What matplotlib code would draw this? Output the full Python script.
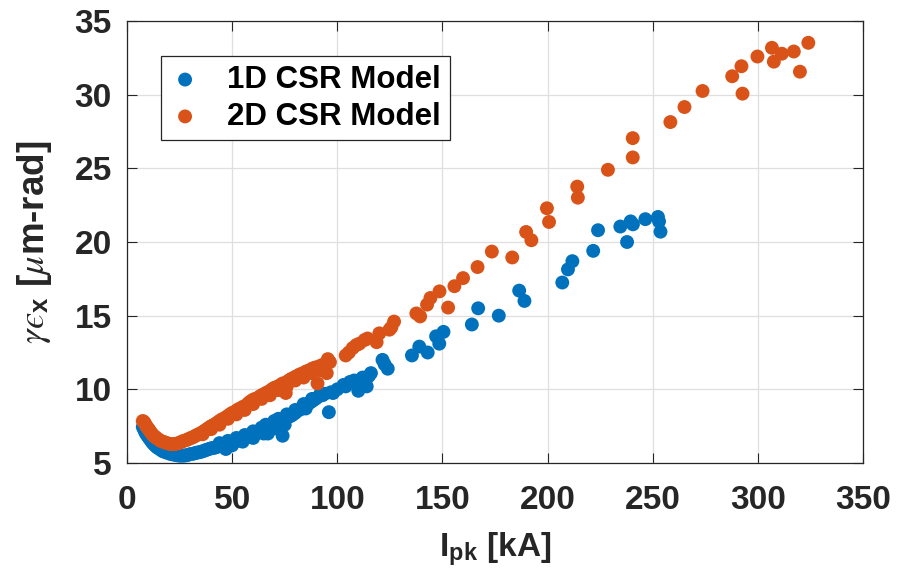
import matplotlib
matplotlib.use("Agg")
import matplotlib.pyplot as plt

plt.rcParams['font.family'] = ['Liberation Sans', 'DejaVu Sans']
plt.rcParams['mathtext.fontset'] = 'custom'
plt.rcParams['mathtext.rm'] = 'Liberation Sans:weight=bold'
plt.rcParams['mathtext.bf'] = 'Liberation Sans:weight=bold'
plt.rcParams['mathtext.it'] = 'STIXGeneral:style=italic:weight=normal'

# 1D CSR model
x_1d = [7.5, 8, 8.5, 9, 9.5, 10, 10.5, 11, 11.5, 12, 12.5, 13, 13.5, 14, 14.5, 15, 16, 17, 18, 19,
        20, 21, 22, 23, 24, 25, 26, 27, 28, 29, 30, 31, 32, 33, 34, 35, 36, 37, 38, 39,
        40, 41, 42, 43, 44, 45, 46, 47, 48, 49, 50, 51, 52, 53, 54, 55, 56, 57, 58, 59,
        60, 61, 62, 63, 64, 65, 66, 67, 67.5, 68, 69, 70, 71, 72, 73, 74, 74.5, 75, 76, 77,
        78, 79, 80, 82, 84, 85, 86, 87, 88, 89, 90, 91.5, 93, 94, 96, 97, 98, 100, 103, 104,
        106, 108, 110, 112, 114, 115, 116, 121.5, 122.5, 124, 135.5, 139, 143, 147, 148.5, 150.5,
        164, 167, 176.8, 186.5, 189, 207, 209.7, 211.8, 221.7, 224, 234.6, 237.8, 239.5, 240.6,
        246.5, 252.5, 253, 253.7,
        44, 48, 52, 56, 60, 64, 66, 70, 72, 76, 80, 84, 88, 92, 50, 55, 60, 65, 70]
y_1d = [7.45, 7.3, 7.15, 7.0, 6.9, 6.8, 6.7, 6.6, 6.5, 6.4, 6.32, 6.25, 6.18, 6.1, 6.05, 6.0, 5.9, 5.8, 5.75, 5.7,
        5.65, 5.6, 5.58, 5.55, 5.52, 5.5, 5.5, 5.5, 5.52, 5.55, 5.6, 5.62, 5.65, 5.7, 5.72, 5.75, 5.8, 5.85, 5.9, 5.95,
        6.0, 6.02, 6.05, 6.1, 6.15, 6.2, 6.22, 5.95, 6.3, 6.35, 6.4, 6.45, 6.5, 6.52, 6.6, 6.65, 6.7, 6.75, 6.8, 6.85,
        6.95, 7.0, 7.05, 7.1, 7.2, 7.25, 7.3, 7.0, 7.4, 7.5, 7.55, 7.6, 7.7, 7.8, 7.85, 6.85, 7.95, 7.6, 8.1, 8.15,
        8.2, 8.3, 8.4, 8.6, 8.8, 8.7, 9.0, 9.1, 9.2, 9.3, 9.4, 9.55, 9.6, 9.7, 8.45, 9.8, 9.75, 10.0, 10.3, 10.2,
        10.5, 10.6, 9.9, 10.8, 10.2, 10.9, 11.1, 12.0, 11.7, 11.4, 12.3, 12.9, 12.5, 13.6, 13.1, 13.9,
        14.4, 15.5, 15.0, 16.7, 16.0, 17.25, 18.14, 18.7, 19.4, 20.8, 21.05, 20.0, 21.4, 21.2,
        21.55, 21.7, 21.4, 20.7,
        6.35, 6.5, 6.7, 6.9, 7.15, 7.4, 7.6, 7.85, 8.0, 8.3, 8.6, 9.0, 9.35, 9.7, 6.2, 6.45, 6.7, 7.0, 7.35]

# 2D CSR model
x_2d = [7.5, 8, 8.5, 9, 9.5, 10, 10.5, 11, 11.5, 12, 12.5, 13, 13.5, 14, 15, 16, 17, 18, 19, 20,
        21, 22, 23, 24, 25, 26, 27, 28, 29, 30, 31, 32, 33, 34, 35, 36, 37, 38, 39, 40,
        41, 42, 43, 44, 45, 46, 47, 48, 49, 50, 51, 52, 53, 54, 55, 56, 57, 58, 59, 60,
        61, 62, 63, 64, 65, 66, 67, 68, 69, 70, 71, 72, 73, 74, 75.5, 76, 77, 78, 79, 80,
        81, 82, 83, 84, 85, 86, 87, 88, 89, 90, 90.6, 92, 93, 94, 95, 95.5, 96.5, 104, 105.5, 107.3,
        109, 110.5, 113, 114.4, 118.7, 120, 124.8, 125.7, 127, 137.6, 139.4, 142.7, 144.3, 148.6, 152.7, 155.7,
        159.8, 166.7, 173.5, 183.2, 189.8, 192.3, 199.7, 200.7, 214.1, 214.4, 228.7, 240.5, 240.5, 258.4,
        265.1, 273.7, 287.8, 292.2, 292.7, 299.8, 306.7, 307.6, 311.4, 317.1, 320, 324,
        36, 40, 44, 48, 52, 56, 60, 64, 68, 72, 76, 80, 84, 88, 92]
y_2d = [7.85, 7.8, 7.7, 7.55, 7.45, 7.35, 7.25, 7.15, 7.05, 6.95, 6.88, 6.8, 6.75, 6.7, 6.6, 6.5, 6.45, 6.4, 6.35, 6.3,
        6.28, 6.28, 6.3, 6.32, 6.38, 6.45, 6.5, 6.55, 6.6, 6.68, 6.72, 6.8, 6.88, 6.95, 7.02, 7.1, 7.2, 7.3, 7.4, 7.5,
        7.55, 7.65, 7.75, 7.85, 7.95, 8.0, 8.1, 8.2, 8.3, 8.4, 8.45, 8.55, 8.65, 8.7, 8.8, 8.85, 8.95, 9.1, 9.2, 9.3,
        9.35, 9.4, 9.5, 9.6, 9.65, 9.75, 9.8, 9.9, 10.0, 10.1, 10.15, 10.2, 10.3, 10.4, 9.75, 10.5, 10.6, 10.7, 10.75, 10.85,
        10.9, 11.0, 11.05, 11.1, 11.2, 11.25, 11.3, 11.4, 11.45, 11.5, 10.4, 11.6, 11.65, 11.7, 11.1, 12.05, 11.85, 12.3, 12.5, 12.8,
        13.0, 13.1, 13.35, 13.45, 13.2, 13.8, 14.05, 14.2, 14.6, 15.15, 14.95, 15.75, 16.2, 16.65, 15.55, 17.0,
        17.55, 18.3, 19.35, 18.95, 20.68, 20.12, 22.29, 21.36, 23.76, 23.01, 24.9, 27.05, 25.74, 28.14,
        29.16, 30.25, 31.25, 31.93, 30.07, 32.59, 33.18, 32.24, 32.78, 32.93, 31.56, 33.52,
        6.95, 7.3, 7.6, 8.0, 8.3, 8.6, 9.0, 9.35, 9.6, 9.95, 10.2, 10.6, 10.8, 11.1, 11.3]

x_ticks = [0, 50, 100, 150, 200, 250, 300, 350]
y_ticks = [5, 10, 15, 20, 25, 30, 35]

fig = plt.figure(figsize=(9.07, 5.82), dpi=100)
ax = fig.add_axes([127 / 907, 1 - 463 / 582, 736 / 907, 442 / 582])

ax.scatter(x_1d, y_1d, s=100, color='#0072BD', edgecolors='none', label='1D CSR Model', zorder=3)
ax.scatter(x_2d, y_2d, s=100, color='#D95319', edgecolors='none', label='2D CSR Model', zorder=4)

ax.set_xlim(0, 350)
ax.set_ylim(5, 35)
ax.set_xticks(x_ticks)
ax.set_yticks(y_ticks)
ax.grid(True, color='#dfdfdf', linewidth=0.9, zorder=0)
ax.set_axisbelow(True)
ax.tick_params(direction='in', top=True, right=True, length=7, width=0.8,
               colors='#262626', labelsize=24)
ax.tick_params(axis='x', pad=16)
ax.tick_params(axis='y', pad=11)
for lab in ax.get_xticklabels() + ax.get_yticklabels():
    lab.set_fontweight('bold')
for sp in ax.spines.values():
    sp.set_color('#262626')
    sp.set_linewidth(0.9)

ax.set_xlabel(r'I$_{\mathbf{pk}}$ [kA]', fontsize=24, fontweight='bold', color='#262626', labelpad=10)
ax.set_ylabel('$\\gamma\u03f5_{\\mathbf{x}}$ [$\\mu$m-rad]', fontsize=26.5, fontweight='bold',
              color='#262626', labelpad=15)

leg = ax.legend(loc='upper left', bbox_to_anchor=((160.7 - 127) / 736, 1 - (56 - 21) / 442),
                borderaxespad=0, prop={'weight': 'bold', 'size': 22.5},
                frameon=True, fancybox=False, framealpha=1, edgecolor='#262626',
                handlelength=1.0, handletextpad=0.85, labelspacing=0.22, borderpad=0.28,
                markerscale=1.0)
leg.get_frame().set_linewidth(0.9)

fig.savefig('out.png', dpi=100)
